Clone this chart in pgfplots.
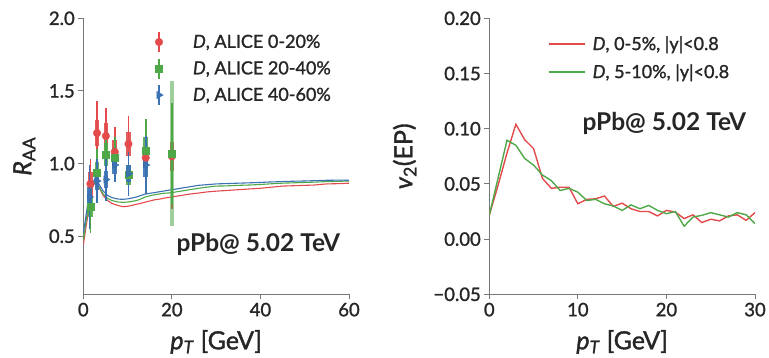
\documentclass[border=0pt]{standalone}
\usepackage{fontspec}
\setmainfont{Lato}[UprightFeatures={FakeBold=1.4}, ItalicFeatures={FakeBold=1.4}]
\usepackage{pgfplots}
\pgfplotsset{compat=1.18}

\definecolor{cred}{RGB}{226,74,76}
\definecolor{cgreen}{RGB}{78,168,72}
\definecolor{cblue}{RGB}{58,114,180}
\definecolor{axgray}{RGB}{120,120,120}
\definecolor{txt}{RGB}{38,38,38}

\pgfplotsset{
  panel/.style={
    scale only axis, width=265.7pt, height=276pt,
    axis x line*=bottom, axis y line*=left,
    axis line style={draw=axgray, line width=0.9pt, -},
    every tick/.style={draw=axgray, line width=0.9pt},
    tick align=outside, major tick length=5pt,
    ticklabel style={font=\fontsize{18.5}{20}\selectfont, text=txt},
    label style={font=\fontsize{25}{28}\selectfont, text=txt},
    xlabel style={at={(axis description cs:0.5,0)}, anchor=base, yshift=-55pt},
    legend style={draw=none, fill=none, inner sep=0pt, outer sep=0pt,
      font=\fontsize{18}{21}\selectfont, text=txt,
      nodes={inner xsep=0pt, inner ysep=0pt}, row sep=0pt},
    legend cell align=left,
  },
  errlegend/.style={legend image code/.code={
    \path[draw=none, fill=none] (-17pt,-13.25pt) rectangle (34pt,13.25pt);
    \draw[##1, mark=none, line width=1.5pt] (0pt,-10pt) -- (0pt,10pt);
    \draw[##1] plot coordinates {(0pt,0pt)};
  }},
  linelegend/.style={legend image code/.code={
    \path[draw=none, fill=none] (0pt,-14pt) rectangle (44pt,14pt);
    \draw[##1] (0pt,0pt) -- (36pt,0pt);
  }},
  stat/.style={only marks, mark=none, forget plot,
    error bars/.cd, y dir=both, y explicit, error mark=none,
    error bar style={line width=1.6pt, color=#1}},
  sys/.style={only marks, mark=none, forget plot,
    error bars/.cd, y dir=both, y explicit, error mark=none,
    error bar style={line width=4.5pt, color=#1, opacity=0.9}},
  wide sys/.style={only marks, mark=none, forget plot,
    error bars/.cd, y dir=both, y explicit, error mark=none,
    error bar style={line width=4.5pt, color=#1, opacity=0.55}},
}

\begin{document}
\begin{tikzpicture}
\useasboundingbox (-83.3pt,-62.7pt) rectangle (685.7pt,294.3pt);

% ---------- nuclear modification factor ----------
\begin{axis}[panel,
  xmin=0, xmax=60, ymin=0.1, ymax=2.0,
  xtick={0,20,40,60}, xticklabels={0,20,40,60},
  ytick={0.5,1.0,1.5,2.0}, yticklabels={0.5,1.0,1.5,2.0},
  xlabel={\textit{p}\textsubscript{\textit{T}} [GeV]},
  ylabel={\textit{R}\textsubscript{AA}},
  ylabel style={at={(axis description cs:0,0.5)}, anchor=base, yshift=52pt},
  legend style={at={(0.221,0.962)}, anchor=north west},
]
% model curves
\addplot[cred, line width=1.1pt, forget plot] coordinates {
 (0,0.44) (1,0.64) (2,0.83) (2.7,0.88) (3.5,0.84) (4.5,0.78) (5.5,0.745)
 (6.5,0.725) (8,0.71) (9,0.703) (10,0.706) (11,0.712) (12,0.72) (13,0.726)
 (14,0.735) (15,0.742) (16,0.75) (17,0.754) (18,0.76) (19,0.766) (20,0.77)
 (22,0.78) (24,0.79) (26,0.797) (28,0.805) (30,0.81) (32,0.814) (35,0.82)
 (38,0.826) (40,0.83) (42,0.836) (45,0.845) (48,0.848) (50,0.85) (52,0.852)
 (55,0.86) (58,0.862) (60,0.865)};
\addplot[cgreen, line width=1.1pt, forget plot] coordinates {
 (0,0.47) (1,0.68) (2,0.84) (2.7,0.88) (3.5,0.84) (4.5,0.79) (5.5,0.76)
 (6.5,0.745) (8,0.735) (9,0.733) (10,0.735) (11,0.74) (12,0.745) (13,0.756)
 (14,0.77) (15,0.778) (16,0.785) (17,0.79) (18,0.795) (19,0.797) (20,0.80)
 (22,0.81) (24,0.82) (26,0.83) (28,0.838) (30,0.845) (32,0.846) (35,0.85)
 (38,0.853) (40,0.856) (42,0.86) (45,0.865) (48,0.868) (50,0.87) (52,0.872)
 (55,0.876) (58,0.878) (60,0.88)};
\addplot[cblue, line width=1.1pt, forget plot] coordinates {
 (0,0.52) (1,0.72) (2,0.86) (2.7,0.90) (3.5,0.86) (4.5,0.81) (5.5,0.78)
 (6.5,0.765) (8,0.755) (9,0.754) (10,0.757) (11,0.763) (12,0.77) (13,0.78)
 (14,0.79) (15,0.795) (16,0.80) (17,0.805) (18,0.81) (19,0.815) (20,0.82)
 (22,0.83) (24,0.84) (26,0.85) (28,0.855) (30,0.86) (32,0.862) (35,0.865)
 (38,0.868) (40,0.87) (42,0.873) (45,0.876) (48,0.879) (50,0.88) (52,0.882)
 (55,0.885) (58,0.886) (60,0.885)};

% ALICE 0-20%
\addplot[sys=cred] coordinates {
 (1.6,0.86) +- (0,0.08) (3.1,1.21) +- (0,0.09) (5.1,1.19) +- (0,0.09)
 (7.1,1.08) +- (0,0.08) (10.2,1.135) +- (0,0.08) (14.1,1.04) +- (0,0.07)
 (20,1.05) +- (0,0.10)};
\addplot[stat=cred] coordinates {
 (1.6,0.86) +- (0,0.17) (3.1,1.21) +- (0,0.22) (5.1,1.19) +- (0,0.19)
 (7.1,1.08) +- (0,0.17) (10.2,1.135) +- (0,0.19) (14.1,1.04) +- (0,0.12)
 (20,1.05) +- (0,0.36)};
\addplot[only marks, mark=*, mark size=3.8pt, color=cred, errlegend] coordinates {
 (1.6,0.86) (3.1,1.21) (5.1,1.19) (7.1,1.08) (10.2,1.135) (14.1,1.04) (20,1.05)};
\addlegendentry{\textit{D}, ALICE 0-20\%}

% ALICE 20-40%
\addplot[sys=cgreen] coordinates {
 (1.6,0.70) +- (0,0.07) (3.1,0.94) +- (0,0.07) (5.1,1.06) +- (0,0.08)
 (7.1,1.04) +- (0,0.07) (10.2,0.92) +- (0,0.07) (14.1,1.09) +- (0,0.09)};
\addplot[wide sys=cgreen] coordinates {(20,1.07) +- (0,0.50)};
\addplot[stat=cgreen] coordinates {
 (1.6,0.70) +- (0,0.18) (3.1,0.94) +- (0,0.16) (5.1,1.06) +- (0,0.14)
 (7.1,1.04) +- (0,0.14) (10.2,0.92) +- (0,0.12) (14.1,1.09) +- (0,0.22)
 (20,1.07) +- (0,0.35)};
\addplot[only marks, mark=square*, mark size=3.5pt, color=cgreen, errlegend] coordinates {
 (1.6,0.70) (3.1,0.94) (5.1,1.06) (7.1,1.04) (10.2,0.92) (14.1,1.09) (20,1.07)};
\addlegendentry{\textit{D}, ALICE 20-40\%}

% ALICE 40-60%
\addplot[sys=cblue] coordinates {
 (1.4,0.77) +- (0,0.07) (3.1,0.88) +- (0,0.06) (5.1,0.89) +- (0,0.06)
 (7.1,0.99) +- (0,0.06) (10.2,0.93) +- (0,0.06) (14.1,0.99) +- (0,0.08)};
\addplot[stat=cblue] coordinates {
 (1.4,0.77) +- (0,0.22) (3.1,0.88) +- (0,0.15) (5.1,0.89) +- (0,0.15)
 (7.1,0.99) +- (0,0.12) (10.2,0.93) +- (0,0.15) (14.1,0.99) +- (0,0.20)};
\addplot[only marks, mark=triangle*, mark size=4.2pt, mark options={rotate=-90},
  color=cblue, errlegend] coordinates {
 (1.4,0.77) (3.1,0.88) (5.1,0.89) (7.1,0.99) (10.2,0.93) (14.1,0.99)};
\addlegendentry{\textit{D}, ALICE 40-60\%}

\node[anchor=base west, font=\fontsize{24.5}{26}\selectfont\bfseries, text=txt]
  at (rel axis cs:0.338,0.154) {pPb@ 5.02 TeV};
\end{axis}

% ---------- elliptic flow ----------
\begin{axis}[panel, xshift=406pt,
  xmin=0, xmax=30, ymin=-0.05, ymax=0.20,
  xtick={0,10,20,30}, xticklabels={0,10,20,30},
  ytick={-0.05,0,0.05,0.10,0.15,0.20},
  yticklabels={−0.05,0.00,0.05,0.10,0.15,0.20},
  xlabel={\textit{p}\textsubscript{\textit{T}} [GeV]},
  ylabel={\textit{v}\textsubscript{2}(EP)},
  ylabel style={at={(axis description cs:0,0.5)}, anchor=base, yshift=77pt},
  legend style={at={(0.221,0.958)}, anchor=north west},
]
\addplot[cred, line width=1.4pt, linelegend] coordinates {
 (0,0.0217) (1,0.049) (2,0.078) (3,0.104) (4,0.090) (5,0.082) (6,0.055)
 (7,0.046) (8,0.047) (9,0.047) (10,0.032) (11,0.036) (12,0.0365) (13,0.039)
 (14,0.0296) (15,0.0326) (16,0.0275) (17,0.025) (18,0.025) (19,0.021)
 (20,0.026) (21,0.0245) (22,0.0186) (23,0.022) (24,0.015) (25,0.018)
 (26,0.0165) (27,0.021) (28,0.022) (29,0.017) (30,0.024)};
\addlegendentry{\textit{D}, 0-5\%, |y|<0.8}
\addplot[cgreen, line width=1.4pt, linelegend] coordinates {
 (0,0.0217) (1,0.0556) (2,0.0895) (3,0.085) (4,0.073) (5,0.067) (6,0.058)
 (7,0.053) (8,0.044) (9,0.046) (10,0.0425) (11,0.035) (12,0.036) (13,0.032)
 (14,0.030) (15,0.026) (16,0.031) (17,0.0275) (18,0.0305) (19,0.026)
 (20,0.023) (21,0.025) (22,0.0117) (23,0.020) (24,0.0215) (25,0.024)
 (26,0.022) (27,0.020) (28,0.024) (29,0.022) (30,0.014)};
\addlegendentry{\textit{D}, 5-10\%, |y|<0.8}

\node[anchor=base west, font=\fontsize{24.5}{26}\selectfont\bfseries, text=txt]
  at (rel axis cs:0.338,0.592) {pPb@ 5.02 TeV};
\end{axis}
\end{tikzpicture}
\end{document}
